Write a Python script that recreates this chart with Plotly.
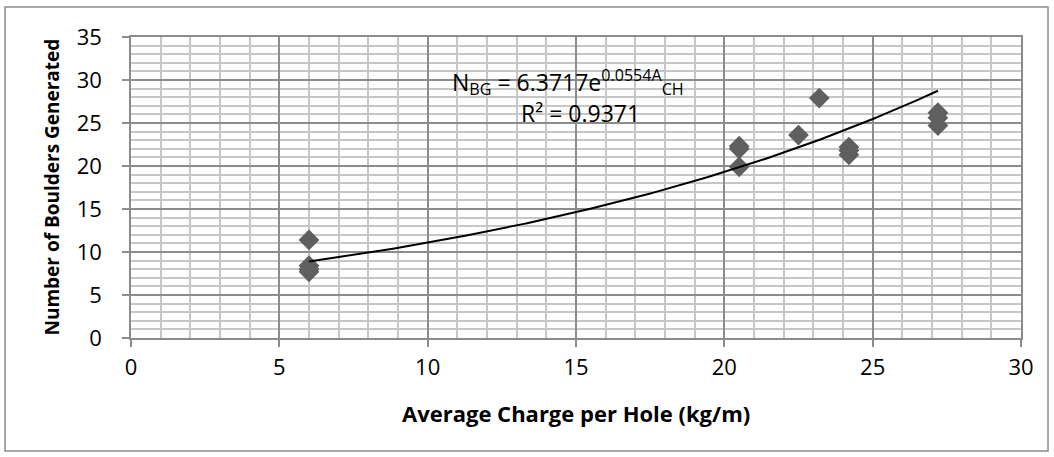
import numpy as np
import plotly.graph_objects as go

# Data
charge = [6.0, 6.0, 6.0, 6.0, 20.5, 20.5, 20.5, 22.5, 23.2, 24.2, 24.2, 24.2, 27.2, 27.2, 27.2]
boulders = [11.4, 8.4, 8.0, 7.7, 22.3, 22.0, 19.9, 23.6, 27.9, 22.2, 21.8, 21.3, 26.2, 25.6, 24.7]

# Exponential trendline coefficients (as shown on the chart)
coef_a = 6.3717
coef_b = 0.0554

x_ticks = [0, 5, 10, 15, 20, 25, 30]
y_ticks = [0, 5, 10, 15, 20, 25, 30, 35]

FONT = "Open Sans"
GRID_MAJ = "#8c8c8c"
GRID_MIN = "#c6c6c6"

tx = np.linspace(min(charge), max(charge), 200)
ty = coef_a * np.exp(coef_b * tx)

fig = go.Figure()
fig.add_trace(go.Scatter(
    x=charge, y=boulders, mode="markers",
    marker=dict(symbol="diamond", size=16, color="#5f5f5f", line=dict(width=0)),
    showlegend=False, hoverinfo="x+y"))
fig.add_trace(go.Scatter(
    x=tx, y=ty, mode="lines", line=dict(color="black", width=2),
    showlegend=False, hoverinfo="skip"))

axis_common = dict(
    showgrid=True, gridcolor=GRID_MAJ, gridwidth=1.5,
    showline=True, linecolor=GRID_MAJ, linewidth=1.5, mirror=True,
    ticks="outside", ticklen=7, tickcolor=GRID_MAJ, tickwidth=1.5,
    zeroline=False,
    tickfont=dict(family=FONT, size=22, color="black"),
)

fig.update_xaxes(range=[0, 30], tickvals=x_ticks, ticklabelstandoff=2,
                 minor=dict(dtick=1, showgrid=True, gridcolor=GRID_MIN, gridwidth=2, ticks=""),
                 **axis_common)
fig.update_yaxes(range=[0, 35], tickvals=y_ticks, ticklabelstandoff=16,
                 minor=dict(dtick=1, showgrid=True, gridcolor=GRID_MIN, gridwidth=2, ticks=""),
                 **axis_common)

fig.add_annotation(xref="paper", yref="paper", x=0.5, y=(338 - 413) / 301,
                   text="<b>Average Charge per Hole (kg/m)</b>", showarrow=False,
                   font=dict(family=FONT, size=22, color="black"),
                   xanchor="center", yanchor="middle")
fig.add_annotation(xref="paper", yref="paper", x=(51 - 131) / 890, y=0.5,
                   text="<b>Number of Boulders Generated</b>", showarrow=False, textangle=-90,
                   font=dict(family=FONT, size=19, color="black"),
                   xanchor="center", yanchor="middle")
fig.add_annotation(xref="paper", yref="paper", x=(450 - 131) / 890, y=(338 - 82) / 301,
                   text="N<sub>BG</sub> = 6.3717e<sup>0.0554A</sup><sub>CH</sub>", showarrow=False,
                   font=dict(family=FONT, size=23, color="black"),
                   xanchor="left", yanchor="middle")
fig.add_annotation(xref="paper", yref="paper", x=(580 - 131) / 890, y=(338 - 113) / 301,
                   text="R² = 0.9371", showarrow=False,
                   font=dict(family=FONT, size=23, color="black"),
                   xanchor="center", yanchor="middle")

fig.add_shape(type="rect", xref="paper", yref="paper",
              x0=(5 - 131) / 890, x1=(1048 - 131) / 890,
              y0=(338 - 451) / 301, y1=(338 - 7) / 301,
              line=dict(color="#8c8c8c", width=1.5), fillcolor="rgba(0,0,0,0)", layer="below")

fig.update_layout(
    width=1054, height=457,
    margin=dict(l=131, r=33, t=37, b=119),
    paper_bgcolor="white", plot_bgcolor="white",
    font=dict(family=FONT),
)

fig.write_html("out.html", config={"displayModeBar": False},
               post_script="document.body.style.margin='0px';")
